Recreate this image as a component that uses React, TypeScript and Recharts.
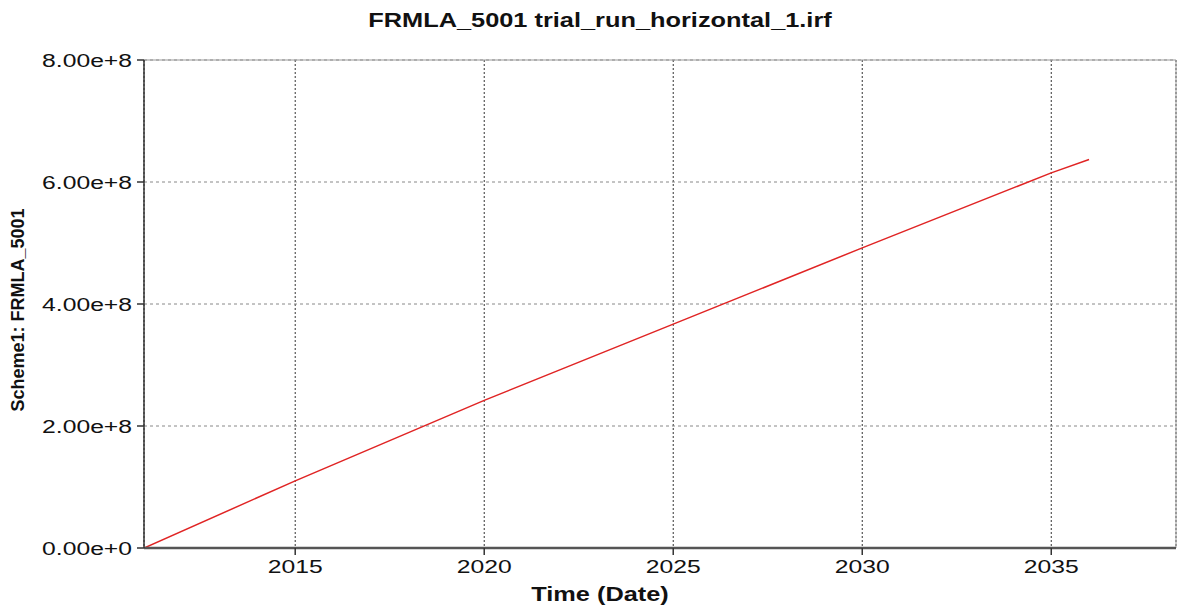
import { LineChart, Line, XAxis, YAxis, CartesianGrid, ReferenceLine } from "recharts";

const years = [2011, 2015, 2020, 2025, 2030, 2035, 2036];
const values = [0, 1.1e8, 2.42e8, 3.67e8, 4.92e8, 6.15e8, 6.37e8];
const xTicks = [2015, 2020, 2025, 2030, 2035];
const yTicks = [0, 2e8, 4e8, 6e8, 8e8];
const xMin = 2011;
const xMax = 2038.3;

const data = years.map((t, i) => ({ t, v: values[i] }));

const FONT = "'Liberation Sans', Arial, sans-serif";
const STRETCH = 1.3;

function YTick({ x, y, payload }: any) {
  return (
    <g transform={`translate(${x},${y})`}>
      <text
        transform={`scale(${STRETCH},1)`}
        textAnchor="end"
        dy="0.36em"
        fontSize={19}
        fontFamily={FONT}
        fill="#111"
      >
        {Number(payload.value).toExponential(2)}
      </text>
    </g>
  );
}

function XTick({ x, y, payload }: any) {
  return (
    <g transform={`translate(${x},${y})`}>
      <text
        transform={`scale(${STRETCH},1)`}
        textAnchor="middle"
        dy="0.71em"
        fontSize={19}
        fontFamily={FONT}
        fill="#111"
      >
        {payload.value}
      </text>
    </g>
  );
}

export default function App() {
  return (
    <div style={{ position: "absolute", left: 0, top: 0, width: 1178, height: 607, background: "#fff" }}>
      <LineChart width={1178} height={607} data={data} margin={{ top: 60, right: 2, left: 0, bottom: 0 }}>
        <CartesianGrid horizontal={false} stroke="#333" strokeDasharray="2 2" />
        <CartesianGrid vertical={false} stroke="#888" strokeDasharray="3 3" />
        <XAxis
          dataKey="t"
          type="number"
          domain={[xMin, xMax]}
          ticks={xTicks}
          allowDataOverflow
          height={59}
          tickSize={7}
          tickMargin={5}
          axisLine={{ stroke: "#555", strokeWidth: 2.5 }}
          tickLine={{ stroke: "#333", strokeWidth: 1.5 }}
          tick={<XTick />}
        />
        <YAxis
          type="number"
          domain={[0, 8e8]}
          ticks={yTicks}
          width={144}
          tickSize={7}
          tickMargin={5}
          axisLine={{ stroke: "#333", strokeWidth: 1.5 }}
          tickLine={{ stroke: "#333", strokeWidth: 1.5 }}
          tick={<YTick />}
        />
        <ReferenceLine y={8e8} stroke="#999" strokeWidth={1} />
        <ReferenceLine x={xMax} stroke="#999" strokeWidth={1} />
        <Line
          type="linear"
          dataKey="v"
          stroke="#e02424"
          strokeWidth={1.5}
          dot={false}
          isAnimationActive={false}
        />
      </LineChart>
      <div
        style={{
          position: "absolute",
          left: 600,
          top: 20,
          transform: `translate(-50%,-50%) scaleX(${STRETCH})`,
          fontFamily: FONT,
          fontWeight: "bold",
          fontSize: 19.5,
          whiteSpace: "nowrap",
          color: "#111",
        }}
      >
        FRMLA_5001 trial_run_horizontal_1.irf
      </div>
      <div
        style={{
          position: "absolute",
          left: 600,
          top: 594,
          transform: `translate(-50%,-50%) scaleX(${STRETCH})`,
          fontFamily: FONT,
          fontWeight: "bold",
          fontSize: 19.5,
          whiteSpace: "nowrap",
          color: "#111",
        }}
      >
        Time (Date)
      </div>
      <div
        style={{
          position: "absolute",
          left: 18,
          top: 310,
          transform: "translate(-50%,-50%) rotate(-90deg)",
          fontFamily: FONT,
          fontWeight: "bold",
          fontSize: 18,
          whiteSpace: "nowrap",
          color: "#111",
        }}
      >
        Scheme1: FRMLA_5001
      </div>
    </div>
  );
}
